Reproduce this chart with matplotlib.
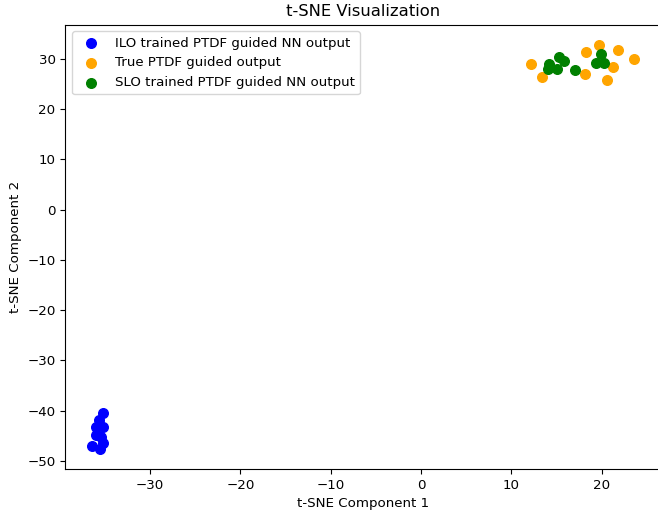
import matplotlib.pyplot as plt
import numpy as np

# t-SNE embeddings
ilo_x = [-35.2, -35.67, -36.03, -35.22, -35.95, -35.4, -35.22, -36.4, -35.5]
ilo_y = [-40.5, -41.8, -43.2, -43.2, -44.8, -45.2, -46.4, -46.95, -47.6]

true_x = [12.16, 13.38, 18.26, 18.15, 19.73, 21.84, 21.25, 20.59, 23.54]
true_y = [28.96, 26.5, 31.3, 27.0, 32.8, 31.8, 28.4, 25.9, 30.0]

slo_x = [14.11, 14.0, 15.22, 15.78, 15.04, 17.0, 19.96, 19.4, 20.29]
slo_y = [29.0, 28.0, 30.4, 29.5, 28.0, 27.8, 31.0, 29.2, 29.2]

plt.rcParams['font.size'] = 9.6

fig = plt.figure(figsize=(6.58, 5.15), dpi=100)
# right spine sits just past the image edge in the reference
ax = fig.add_axes([0.0992, 0.0893, 0.905, 0.8627])

ax.scatter(ilo_x, ilo_y, c='blue', s=48, label='ILO trained PTDF guided NN output')
ax.scatter(true_x, true_y, c='orange', s=48, label='True PTDF guided output')
ax.scatter(slo_x, slo_y, c='green', s=48, label='SLO trained PTDF guided NN output')

ax.set_title('t-SNE Visualization', fontsize=11.8)
ax.set_xlabel('t-SNE Component 1')
ax.set_ylabel('t-SNE Component 2')
ax.legend(loc='upper left')

fig.savefig('out.png', dpi=100)
